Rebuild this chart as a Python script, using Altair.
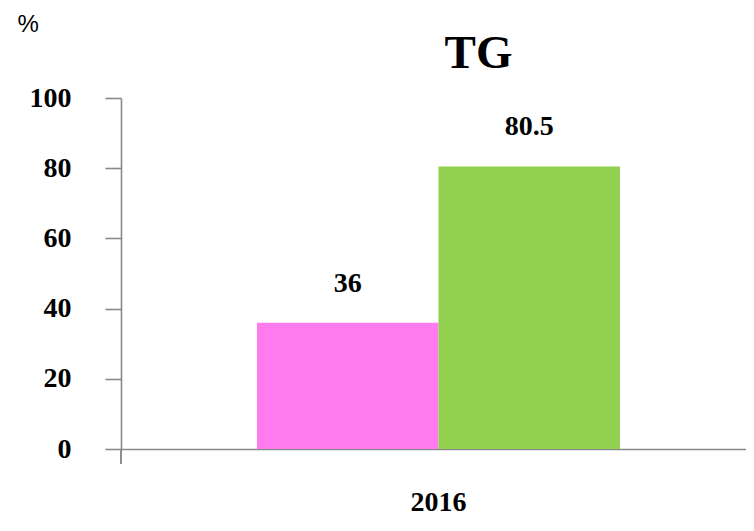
import altair as alt
import pandas as pd

years = ["2016", "2016"]
series = ["Series 1", "Series 2"]
values = [36, 80.5]
colors = ["#FF7BEE", "#92D050"]
y_ticks = [0, 20, 40, 60, 80, 100]

df = pd.DataFrame({"year": years, "series": series, "value": values})

W, H = 625, 351
SERIF = "Liberation Serif"
AX = "#898989"

x_enc = alt.X(
    "year:N",
    scale=alt.Scale(paddingInner=0, paddingOuter=0.3609, align=0.519),
    axis=alt.Axis(
        title=None, ticks=False, domain=True, domainColor=AX, domainWidth=1.6,
        labelFont=SERIF, labelFontWeight="bold", labelFontSize=28,
        labelColor="#000000", labelPadding=39, labelAngle=0,
    ),
)
xo_enc = alt.XOffset("series:N", scale=alt.Scale(paddingInner=0, paddingOuter=0))
y_enc = alt.Y(
    "value:Q",
    scale=alt.Scale(domain=[0, 100], nice=False),
    axis=alt.Axis(
        values=y_ticks, grid=False, tickSize=16, tickColor=AX, tickWidth=1.6,
        domainColor=AX, domainWidth=1.6,
        labelFont=SERIF, labelFontWeight="bold", labelFontSize=28,
        labelColor="#000000", labelPadding=34,
        title="%", titleAngle=0, titleX=-104, titleY=-67, titleAlign="left",
        titleBaseline="alphabetic", titleFont="Liberation Sans",
        titleFontSize=24, titleFontWeight="normal", titleColor="#000000",
    ),
)

bars = alt.Chart(df).mark_bar().encode(
    x=x_enc,
    xOffset=xo_enc,
    y=y_enc,
    color=alt.Color("series:N", scale=alt.Scale(domain=series, range=colors), legend=None),
)

labels = alt.Chart(df).mark_text(
    font=SERIF, fontWeight="bold", fontSize=28, color="#000000",
    baseline="alphabetic", dy=-31,
).encode(
    x=alt.X("year:N"),
    xOffset=alt.XOffset("series:N"),
    y=alt.Y("value:Q"),
    text=alt.Text("value:Q"),
)

tick = alt.Chart(df).mark_rule(color=AX, strokeWidth=1.6).encode(
    x=alt.value(0), y=alt.value(H), y2=alt.value(H + 15)
)

chart = alt.layer(bars, labels, tick).properties(
    width=W,
    height=H,
    title=alt.TitleParams(
        "TG", font=SERIF, fontWeight="bold", fontSize=47, color="#000000",
        anchor="middle", frame="group", dx=45, dy=124, offset=21,
        baseline="alphabetic",
    ),
    autosize=alt.AutoSizeParams(type="none"),
    padding={"left": 113, "top": 90, "right": 0, "bottom": 67},
    background="white",
).configure_view(stroke=None)

chart.save("out.html", embed_options={"renderer": "svg", "actions": False})
